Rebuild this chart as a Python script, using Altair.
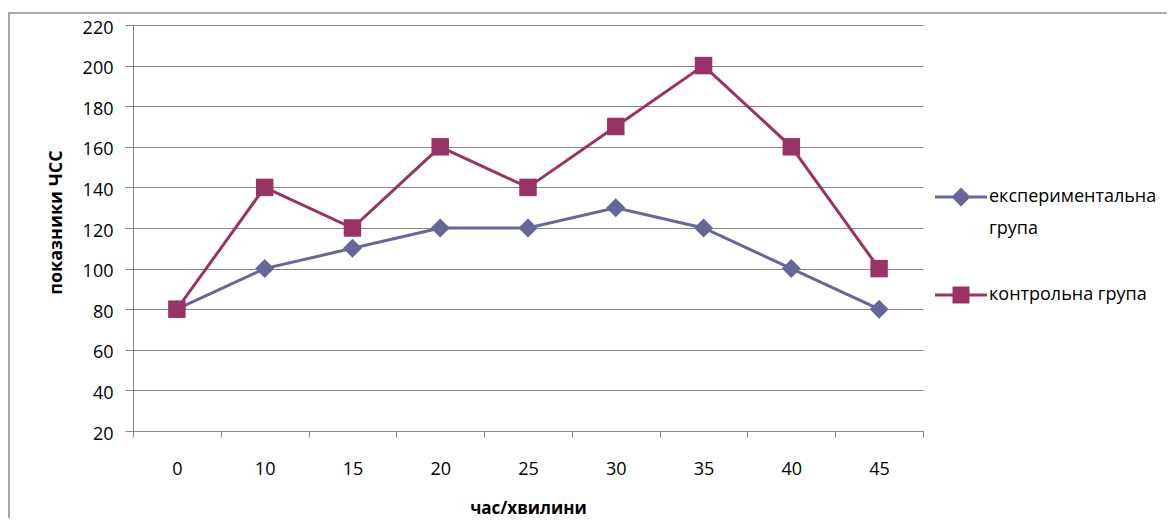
import altair as alt
import pandas as pd

times = ["0", "10", "15", "20", "25", "30", "35", "40", "45"]
experimental = [80, 100, 110, 120, 120, 130, 120, 100, 80]
control = [80, 140, 120, 160, 140, 170, 200, 160, 100]
series_names = ["експериментальна група", "контрольна група"]
colors = ["#666699", "#993366"]
y_ticks = [20, 40, 60, 80, 100, 120, 140, 160, 180, 200, 220]

rows = []
for name, vals in zip(series_names, [experimental, control]):
    for t, v in zip(times, vals):
        rows.append({"time": t, "value": v, "series": name})
df = pd.DataFrame(rows)

FONT = "Open Sans"
GRID = "#878787"

x = alt.X(
    "time:N", sort=times,
    scale=alt.Scale(type="band", paddingInner=0, paddingOuter=0),
    axis=alt.Axis(
        title="час/хвилини", labelAngle=0, tickBand="extent", grid=False,
        domainColor=GRID, tickColor=GRID, tickSize=6, labelPadding=23,
        labelFont=FONT, labelFontSize=18, labelColor="black",
        titleFont=FONT, titleFontSize=17, titleFontWeight="bold", titleColor="black",
        titleY=82, titleBaseline="alphabetic",
    ),
)
y = alt.Y(
    "value:Q",
    scale=alt.Scale(domain=[20, 220], nice=False, zero=False),
    axis=alt.Axis(
        title="показники  ЧСС", values=y_ticks, grid=True, gridColor=GRID,
        domainColor=GRID, tickColor=GRID, tickSize=8, labelPadding=12, labelOffset=3,
        labelFont=FONT, labelFontSize=18, labelColor="black",
        titleFont=FONT, titleFontSize=18, titleFontWeight="bold", titleColor="black",
        titleX=-72, titleY=197, titleAngle=-90, titleBaseline="alphabetic", titleAlign="center",
    ),
)
color = alt.Color("series:N", scale=alt.Scale(domain=series_names, range=colors), legend=None)

frame = alt.Chart(pd.DataFrame({"f": [0]})).mark_rect(
    filled=False, stroke="#8c8c8c", strokeWidth=1.5
).encode(x=alt.value(-124), x2=alt.value(1300), y=alt.value(-12), y2=alt.value(700))

lines = alt.Chart(df).mark_line(strokeWidth=3).encode(x=x, y=y, color=color, detail="series:N")

points = alt.Chart(df).mark_point(filled=True, opacity=1).encode(
    x=x, y=y, color=color,
    shape=alt.Shape("series:N", scale=alt.Scale(domain=series_names, range=["diamond", "square"]), legend=None),
    size=alt.Size("series:N", scale=alt.Scale(domain=series_names, range=[361, 306]), legend=None),
)

# legend symbols: a 3px bar with the marker over it (filled paths, unit = 10px)
diamond_path = "M-2.6,-0.15H2.6V0.15H-2.6Z M0,-0.95L0.95,0L0,0.95L-0.95,0Z"
square_path = "M-2.6,-0.15H2.6V0.15H-2.6Z M-0.85,-0.85H0.85V0.85H-0.85Z"


def legend_layer(name, path, col, ly, expr=None, show_symbol=True):
    kw = dict(
        title=None, orient="none", legendX=818, legendY=ly, symbolSize=400,
        symbolStrokeWidth=0, symbolFillColor=col,
        symbolOpacity=1 if show_symbol else 0,
        labelOffset=18, labelFontSize=18, labelFont=FONT, labelColor="black",
        labelLimit=400, padding=0, labelBaseline="middle",
    )
    if expr:
        kw["labelExpr"] = expr
    return alt.Chart(df).transform_filter("false").mark_point(
        filled=True, opacity=1, fill=col
    ).encode(
        shape=alt.Shape("series:N", scale=alt.Scale(domain=[name], range=[path]),
                        legend=alt.Legend(**kw)),
    )


leg_exp = legend_layer(series_names[0], diamond_path, colors[0], 162, "'експериментальна'")
leg_exp2 = legend_layer(series_names[0], diamond_path, colors[0], 194, "'група'", show_symbol=False)
leg_ctl = legend_layer(series_names[1], square_path, colors[1], 260)

chart = alt.layer(frame, lines, points, leg_exp, leg_exp2, leg_ctl).resolve_scale(
    shape="independent", size="independent"
).properties(
    width=790, height=406,
    autosize=alt.AutoSizeParams(type="none"),
    padding={"left": 125, "top": 17, "right": 244, "bottom": 87},
).configure_view(stroke=None)

chart.save("out.html", embed_options={"renderer": "svg", "actions": False})
